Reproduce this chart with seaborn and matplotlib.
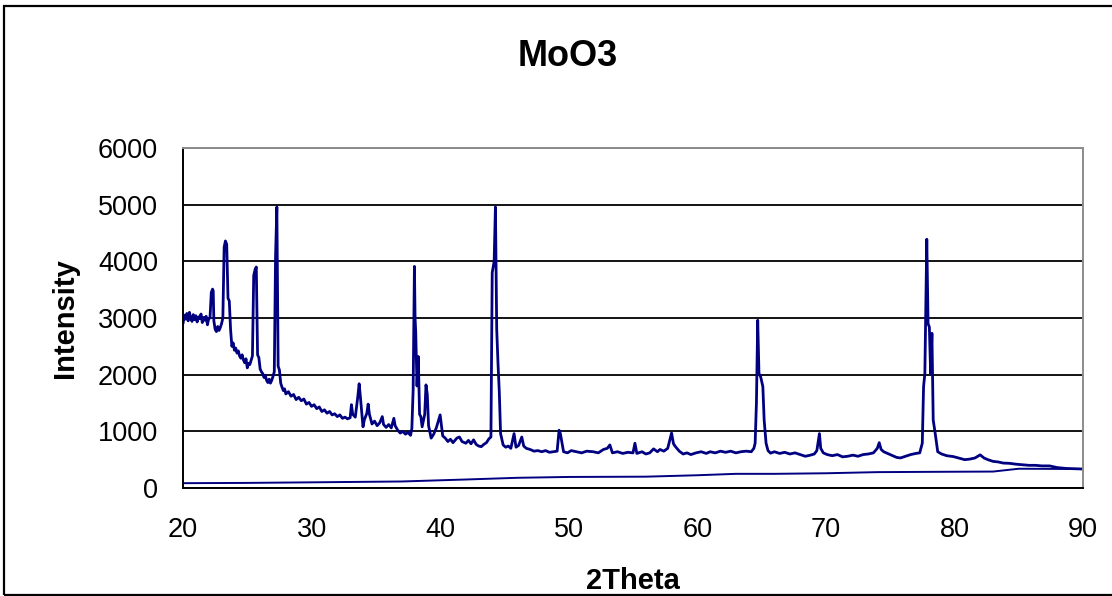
import matplotlib
matplotlib.use("Agg")
import matplotlib.pyplot as plt
import seaborn as sns
import pandas as pd
from matplotlib.patches import Rectangle

two_theta = [
    20.0, 20.1, 20.2, 20.3, 20.4, 20.5, 20.6, 20.7, 20.8, 20.9,
    21.0, 21.1, 21.2, 21.3, 21.4, 21.5, 21.6, 21.7, 21.8, 21.9,
    22.0, 22.1, 22.2, 22.3, 22.35, 22.4, 22.5, 22.6, 22.7, 22.8,
    22.9, 23.0, 23.1, 23.2, 23.3, 23.4, 23.5, 23.6, 23.7, 23.8,
    23.9, 24.0, 24.1, 24.2, 24.3, 24.4, 24.5, 24.6, 24.7, 24.8,
    24.9, 25.0, 25.1, 25.2, 25.4, 25.5, 25.6, 25.7, 25.8, 25.9,
    26.0, 26.1, 26.2, 26.3, 26.4, 26.5, 26.6, 26.7, 26.8, 26.9,
    27.0, 27.1, 27.2, 27.3, 27.4, 27.5, 27.6, 27.7, 27.8, 27.9,
    28.0, 28.2, 28.4, 28.6, 28.8, 29.0, 29.2, 29.4, 29.6, 29.8,
    30.0, 30.2, 30.4, 30.6, 30.8, 31.0, 31.2, 31.4, 31.6, 31.8,
    32.0, 32.2, 32.4, 32.6, 32.8, 33.0, 33.1, 33.2, 33.4, 33.6,
    33.7, 33.8, 34.0, 34.1, 34.3, 34.4, 34.5, 34.7, 34.9, 35.1,
    35.3, 35.5, 35.6, 35.8, 36.0, 36.2, 36.4, 36.5, 36.7, 36.9,
    37.1, 37.3, 37.5, 37.7, 37.8, 37.9, 38.0, 38.05, 38.1, 38.2,
    38.3, 38.4, 38.5, 38.6, 38.8, 38.9, 39.0, 39.1, 39.3, 39.5,
    39.7, 40.0, 40.2, 40.4, 40.6, 40.8, 41.0, 41.3, 41.5, 41.7,
    42.0, 42.2, 42.4, 42.6, 42.8, 43.0, 43.2, 43.4, 43.6, 43.8,
    43.95, 44.05, 44.2, 44.3, 44.4, 44.5, 44.6, 44.7, 44.9, 45.1,
    45.3, 45.5, 45.75, 45.9, 46.1, 46.35, 46.5, 46.7, 47.0, 47.3,
    47.6, 47.9, 48.2, 48.5, 48.8, 49.1, 49.25, 49.35, 49.6, 49.9,
    50.2, 50.6, 51.0, 51.4, 51.9, 52.3, 52.7, 53.0, 53.2, 53.4,
    53.8, 54.2, 54.6, 55.0, 55.15, 55.3, 55.7, 56.0, 56.3, 56.6,
    56.9, 57.1, 57.4, 57.7, 58.0, 58.15, 58.3, 58.6, 58.9, 59.2,
    59.5, 59.9, 60.3, 60.7, 61.0, 61.4, 61.8, 62.2, 62.6, 63.0,
    63.4, 63.8, 64.2, 64.4, 64.5, 64.6, 64.7, 64.8, 64.9, 65.1,
    65.2, 65.35, 65.5, 65.7, 66.0, 66.4, 66.8, 67.2, 67.6, 68.0,
    68.4, 68.8, 69.1, 69.3, 69.5, 69.6, 69.8, 70.1, 70.5, 70.9,
    71.3, 71.7, 72.1, 72.5, 72.9, 73.3, 73.7, 74.0, 74.15, 74.3,
    74.5, 74.8, 75.1, 75.5, 75.8, 76.2, 76.6, 77.0, 77.3, 77.5,
    77.6, 77.7, 77.85, 77.95, 78.05, 78.15, 78.25, 78.35, 78.5, 78.7,
    79.0, 79.4, 79.9, 80.3, 80.8, 81.2, 81.6, 82.0, 82.3, 82.6,
    83.0, 83.4, 83.8, 84.3, 84.8, 85.3, 85.8, 86.3, 86.8, 87.4,
    88.0, 88.7, 89.3, 90.0,
]
intensity = [
    2900, 3050, 2980, 3080, 2950, 3100, 3000, 2940, 3060, 2970,
    3040, 2930, 3020, 2990, 3070, 2920, 3010, 2960, 3030, 2880,
    2990, 3000, 3450, 3510, 3480, 2950, 2800, 2760, 2850, 2780,
    2830, 2900, 3000, 4250, 4360, 4300, 3350, 3300, 2800, 2500,
    2560, 2430, 2470, 2380, 2420, 2330, 2290, 2350, 2260, 2210,
    2280, 2120, 2200, 2180, 2330, 3750, 3850, 3900, 2350, 2300,
    2100, 2050, 2020, 1950, 1990, 1900, 1860, 1920, 1850, 1900,
    1970, 2050, 4100, 4960, 2150, 2080, 1850, 1780, 1720, 1750,
    1660, 1700, 1620, 1650, 1560, 1600, 1540, 1570, 1480, 1510,
    1440, 1470, 1400, 1430, 1350, 1380, 1320, 1350, 1290, 1310,
    1260, 1290, 1230, 1250, 1220, 1240, 1470, 1300, 1250, 1620,
    1840, 1600, 1080, 1200, 1320, 1480, 1300, 1130, 1180, 1100,
    1150, 1260, 1120, 1070, 1120, 1060, 1230, 1100, 1020, 970,
    1000, 950, 980, 930, 1050, 1730, 3910, 3000, 2760, 1800,
    2320, 1300, 1260, 1080, 1300, 1820, 1650, 1100, 880, 950,
    1060, 1290, 920, 880, 820, 860, 800, 880, 900, 820,
    790, 840, 780, 850, 770, 740, 730, 770, 800, 870,
    900, 3800, 4000, 4960, 2800, 2200, 1700, 960, 760, 720,
    740, 700, 960, 720, 750, 900, 740, 700, 680, 650,
    660, 640, 660, 630, 640, 650, 1020, 960, 640, 620,
    660, 640, 620, 650, 640, 620, 680, 700, 760, 620,
    640, 610, 630, 620, 790, 610, 640, 600, 620, 690,
    640, 680, 650, 700, 970, 780, 730, 650, 600, 620,
    590, 620, 640, 610, 640, 620, 650, 630, 650, 620,
    640, 650, 640, 700, 790, 1500, 2960, 2000, 1990, 1790,
    1200, 790, 660, 615, 640, 610, 630, 600, 620, 590,
    560, 580, 600, 660, 960, 700, 620, 590, 570, 590,
    550, 560, 580, 560, 590, 600, 620, 700, 800, 680,
    640, 610, 580, 540, 530, 560, 590, 610, 620, 790,
    1790, 2020, 4390, 2900, 2840, 2020, 2730, 1200, 970, 640,
    600, 570, 555, 530, 500, 510, 530, 585, 530, 500,
    470, 460, 440, 435, 420, 410, 400, 400, 390, 390,
    360, 345, 340, 335,
]

# fitted background curve
bg_theta = [20, 25, 30, 37, 42, 46, 50, 56, 60, 63, 66, 70, 74, 78, 83, 85, 90]
bg_intensity = [85, 90, 100, 115, 150, 180, 195, 200, 225, 250, 250, 260, 280, 285, 290, 340, 335]

x_ticks = [20, 30, 40, 50, 60, 70, 80, 90]
y_ticks = [0, 1000, 2000, 3000, 4000, 5000, 6000]

sns.set_style("white")
plt.rcParams["font.family"] = ["Liberation Sans", "DejaVu Sans"]
plt.rcParams.update({"text.color": "black", "axes.labelcolor": "black",
                     "xtick.color": "black", "ytick.color": "black"})

pattern = pd.DataFrame({"2Theta": two_theta, "Intensity": intensity})
background = pd.DataFrame({"2Theta": bg_theta, "Intensity": bg_intensity})

fig = plt.figure(figsize=(11.12, 5.96), dpi=100)
ax = fig.add_axes([183 / 1112, 1 - 488 / 596, 900 / 1112, 340 / 596])

sns.lineplot(data=background, x="2Theta", y="Intensity", ax=ax,
             color="#000080", linewidth=1.4, estimator=None)
sns.lineplot(data=pattern, x="2Theta", y="Intensity", ax=ax,
             color="#000080", linewidth=2.0, estimator=None)

ax.set_xlim(20, 90)
ax.set_ylim(0, 6000)
ax.set_xticks(x_ticks)
ax.set_yticks(y_ticks)
ax.tick_params(axis="both", labelsize=19.5, length=7, width=1.2,
               direction="out", color="black", labelcolor="black")
ax.tick_params(axis="y", pad=11)
ax.tick_params(axis="x", pad=14)
ax.yaxis.grid(True, color="black", linewidth=1.3)
ax.set_axisbelow(True)

for side in ["left", "bottom"]:
    ax.spines[side].set_color("black")
    ax.spines[side].set_linewidth(1.4)
for side in ["top", "right"]:
    ax.spines[side].set_color("#8c8c8c")
    ax.spines[side].set_linewidth(1.4)

ax.set_xlabel("2Theta", fontsize=21, fontweight="bold", color="black")
ax.set_ylabel("Intensity", fontsize=21, fontweight="bold", color="black")
ax.xaxis.set_label_coords(0.5, -0.232)
ax.yaxis.set_label_coords(-0.116, 0.5)

fig.text(568 / 1112, 1 - 57 / 596, "MoO3", fontsize=26, fontweight="bold",
         ha="center", va="center", color="black")

# chart-area border (runs off the right edge)
fig.patches.append(Rectangle((4 / 1112, 1 / 596), 1.2, 589 / 596,
                             transform=fig.transFigure, fill=False,
                             edgecolor="black", linewidth=1.6))

fig.savefig("out.png", dpi=100)
